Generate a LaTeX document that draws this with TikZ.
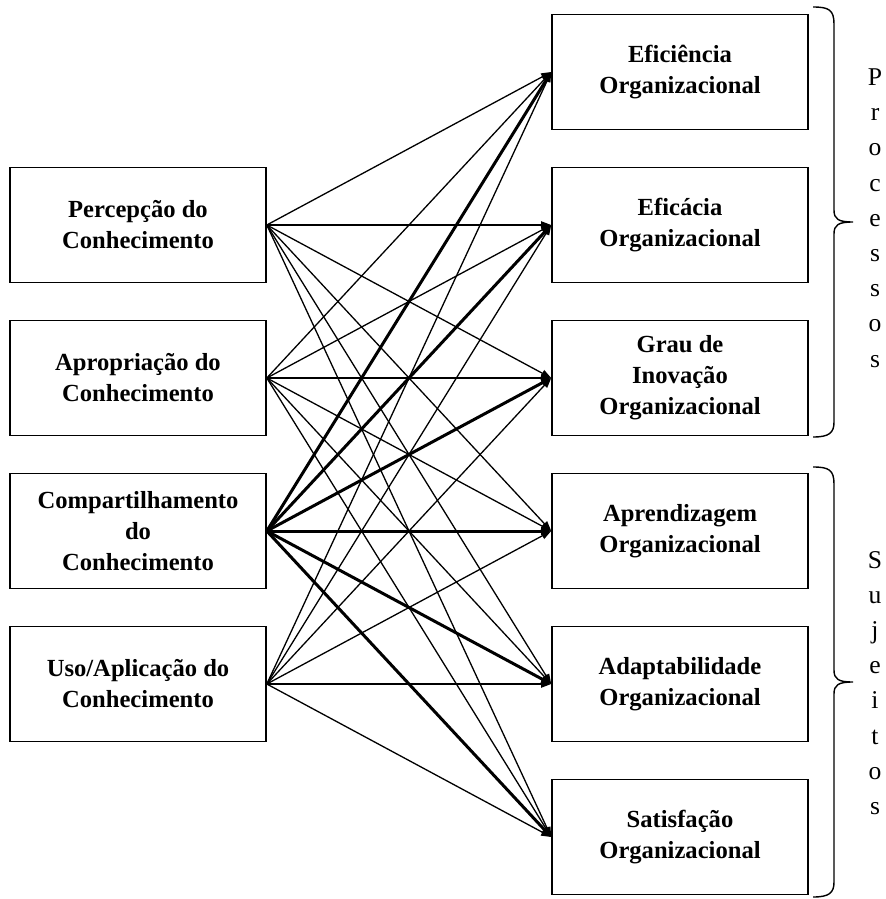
\documentclass[tikz,border=0pt]{standalone}
\usepackage{fontspec}
\setmainfont{Liberation Serif}
\usetikzlibrary{arrows.meta}
\begin{document}
\begin{tikzpicture}[x=0.5pt,y=-0.5pt,
        caixa/.style={draw, line width=0.8pt, minimum width=128pt, minimum height=57.5pt,
            align=center, inner sep=2pt, font=\bfseries\fontsize{12.3}{15.5}\selectfont},
        liga/.style={-{Triangle[length=5pt,width=3.6pt]}, line width=0.65pt},
        forte/.style={liga, line width=1.5pt},
        chave/.style={line width=0.7pt},
        lado/.style={align=center, inner sep=0pt, font=\fontsize{12.8}{17.6}\selectfont}]
        \useasboundingbox (0,0) rectangle (886,899);
        % dimensoes do conhecimento
        \node[caixa] (d1) at (138,225) {Percepção do\\Conhecimento};
        \node[caixa] (d2) at (138,378) {Apropriação do\\Conhecimento};
        \node[caixa] (d3) at (138,531) {Compartilhamento\\do\\Conhecimento};
        \node[caixa] (d4) at (138,684) {Uso/Aplicação do\\Conhecimento};
        % resultados organizacionais
        \node[caixa] (r1) at (680,72) {Eficiência\\Organizacional};
        \node[caixa] (r2) at (680,225) {Eficácia\\Organizacional};
        \node[caixa] (r3) at (680,378) {Grau de\\Inovação\\Organizacional};
        \node[caixa] (r4) at (680,531) {Aprendizagem\\Organizacional};
        \node[caixa] (r5) at (680,684) {Adaptabilidade\\Organizacional};
        \node[caixa] (r6) at (680,837) {Satisfação\\Organizacional};
        \foreach \i in {1,2,4} \foreach \j in {1,...,6} {
            \draw[liga] (d\i.east) -- (r\j.west);
        }
        \foreach \j in {1,...,6} {
            \draw[forte] (d3.east) -- (r\j.west);
        }
        % chaves
        \coordinate (c1) at (813,7);
        \coordinate (t1) at (853,222);
        \coordinate (c2) at (813,437);
        \coordinate (c3) at (813,467);
        \coordinate (t2) at (853,682);
        \coordinate (c4) at (813,897);
        \draw[chave] (c1) .. controls (829,7) and (834,10) .. (834,24) -- (834,210)
            .. controls (834,219) and (838,222) .. (t1)
            .. controls (838,222) and (834,225) .. (834,234) -- (834,422)
            .. controls (834,433) and (829,437) .. (c2);
        \draw[chave] (c3) .. controls (829,467) and (834,470) .. (834,484) -- (834,670)
            .. controls (834,679) and (838,682) .. (t2)
            .. controls (838,682) and (834,685) .. (834,694) -- (834,882)
            .. controls (834,893) and (829,897) .. (c4);
        \node[lado] (proc) at (875,218) {P\\r\\o\\c\\e\\s\\s\\o\\s};
        \node[lado] (suj) at (875,683) {S\\u\\j\\e\\i\\t\\o\\s};
    \end{tikzpicture}
\end{document}
